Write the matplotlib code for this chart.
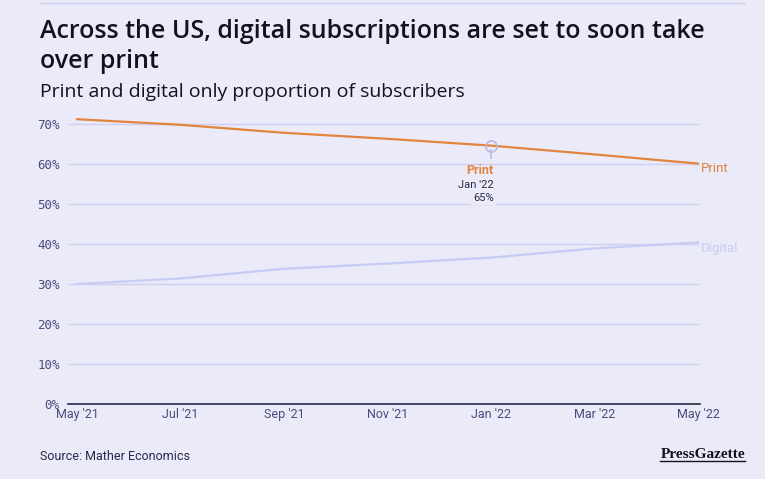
import matplotlib.pyplot as plt

plt.rcParams["font.family"] = ["Roboto", "DejaVu Sans"]

# data
months = ["May '21", "Jul '21", "Sep '21", "Nov '21", "Jan '22", "Mar '22", "May '22"]
month_idx = [0, 2, 4, 6, 8, 10, 12]
print_share = [71.2, 69.8, 67.8, 66.3, 64.6, 62.4, 60.1]
digital_share = [30.0, 31.4, 33.8, 35.1, 36.6, 38.9, 40.4]
y_ticks = [0, 10, 20, 30, 40, 50, 60, 70]

BG = "#ebeaf8"
GRID = "#cfcff0"
TEXT = "#28284a"
TICK = "#4b4b7d"
ORANGE = "#e0843e"
LILAC = "#c6ccf4"

W, H = 765, 479
fig = plt.figure(figsize=(W / 100, H / 100), dpi=100, facecolor=BG)

ax = fig.add_axes([68 / W, 1 - 404 / H, (700 - 68) / W, (404 - 112) / H])
ax.set_facecolor(BG)

ax.plot(month_idx, print_share, color=ORANGE, lw=1.6, solid_capstyle="round")
ax.plot(month_idx, digital_share, color=LILAC, lw=1.6, solid_capstyle="round")

ppm = (698 - 77) / 12.0
ax.set_xlim(-(77 - 68) / ppm, 12 + (700 - 698) / ppm)
ax.set_ylim(0, 70 * 292 / 280)

ax.set_yticks(y_ticks)
ax.set_yticklabels([f"{v}%" for v in y_ticks], family="DejaVu Sans Mono",
                   fontsize=9, color=TICK)
ax.set_xticks(month_idx)
ax.set_xticklabels(months, fontsize=9, color=TICK)
ax.tick_params(length=0, pad=6)
ax.tick_params(axis="x", pad=3)

ax.grid(axis="y", color=GRID, lw=1)
ax.set_axisbelow(True)
for s in ["top", "right", "left"]:
    ax.spines[s].set_visible(False)
ax.spines["bottom"].set_color("#2a2a48")
ax.spines["bottom"].set_linewidth(1.2)

# end labels
ax.text(12.05, print_share[-1] - 1.2, "Print", color=ORANGE, fontsize=9.5,
        va="center", ha="left", clip_on=False)
ax.text(12.05, digital_share[-1] - 1.6, "Digital", color=LILAC, fontsize=9.5,
        va="center", ha="left", clip_on=False)

# hover annotation at Jan '22
ax.plot([8], [print_share[4]], marker="o", ms=8, mfc="none", mec="#b9b9e0", mew=1.2)
ax.plot([8, 8], [print_share[4] - 1, print_share[4] - 3.2], color="#b9b9e0", lw=1.2)
ax.text(8.05, print_share[4] - 6.1, "Print", color=ORANGE, fontsize=9,
        fontweight="bold", ha="right", va="center")
ax.text(8.05, print_share[4] - 9.9, "Jan '22", color=TEXT, fontsize=8,
        ha="right", va="center")
ax.text(8.05, print_share[4] - 13.1, "65%", color=TEXT, fontsize=8,
        ha="right", va="center",
        bbox=dict(facecolor=BG, edgecolor="none", pad=1.5))

# header
fig.add_artist(plt.Line2D([40 / W, 745 / W], [1 - 3 / H, 1 - 3 / H],
                          color=GRID, lw=1))
fig.text(40 / W, 1 - 31 / H, "Across the US, digital subscriptions are set to soon take",
         fontsize=18, fontweight="semibold", family="Open Sans",
         color="#111122", va="center")
fig.text(40 / W, 1 - 61 / H, "over print",
         fontsize=18, fontweight="semibold", family="Open Sans",
         color="#111122", va="center")
fig.text(40 / W, 1 - 92 / H, "Print and digital only proportion of subscribers",
         fontsize=14, family="Open Sans", color="#111122", va="center")

# footer
fig.text(40 / W, 1 - 456 / H, "Source: Mather Economics", fontsize=9,
         color=TEXT, va="center")
fig.text(745 / W, 1 - 454 / H, "PressGazette", fontsize=11, fontweight="bold",
         family="Liberation Serif", color="#111122", va="center", ha="right")
fig.add_artist(plt.Line2D([660 / W, 745 / W], [1 - 461 / H, 1 - 461 / H],
                          color="#111122", lw=1))

fig.savefig("out.png", dpi=100, facecolor=BG)
